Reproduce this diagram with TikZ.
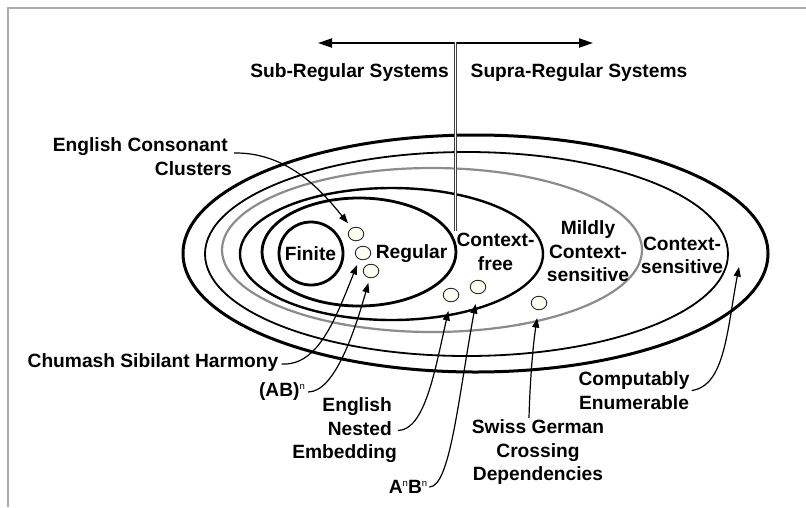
\documentclass[tikz,border=0pt]{standalone}
\usepackage{fontspec}
\setmainfont{Liberation Sans}
\usetikzlibrary{arrows.meta,shapes.geometric,calc}
\newcommand{\supn}{\raisebox{7.5pt}{\fontsize{9.5}{9.5}\selectfont\mdseries n}}
\begin{document}
\begin{tikzpicture}[x=1pt,y=-1pt,
  lbl/.style={font=\fontsize{19.2}{23.5}\selectfont\bfseries, inner sep=0pt, align=center},
  dot/.style={ellipse, draw=black!85, line width=0.9pt, fill=yellow!4, minimum width=15.5pt, minimum height=13.5pt, inner sep=0pt},
  lead/.style={line width=1.2pt, -{Triangle[length=9.5pt,width=7pt]}},
  topar/.style={line width=2pt, -{Triangle[length=14pt,width=9pt]}},
  ring/.style={draw=black}]
\useasboundingbox (0,0) rectangle (806,507);
\fill[white] (0,0) rectangle (806,507);
% frame
\draw[gray!65, line width=1.6pt] (806,8) -- (8,8) -- (8,507);

% nested language classes
\draw[ring, line width=3pt] (475.5,253.5) ellipse [x radius=292.5pt, y radius=118.5pt];
\draw[ring, line width=1.8pt] (466.5,254) ellipse [x radius=261.5pt, y radius=102pt];
\draw[draw=black!45, line width=2.2pt] (432,250) ellipse [x radius=210pt, y radius=82pt];
\draw[ring, line width=2.4pt] (391.5,254) ellipse [x radius=151.5pt, y radius=66pt];
\draw[ring, line width=2.8pt] (359,252) ellipse [x radius=97pt, y radius=54pt];
\draw[ring, line width=2.8pt] (311,253.5) ellipse [x radius=32pt, y radius=31.5pt];

% top arrows
\coordinate (j) at (455.5,43);
\coordinate (jl) at (454,43);
\coordinate (jr) at (457,43);
\coordinate (jb) at (455.5,231);
\coordinate (lt) at (318,43);
\coordinate (rt) at (593,43);
\draw[topar] (jl) -- (lt);
\draw[topar] (jr) -- (rt);
\draw[line width=0.8pt, draw=black!75, double=white, double distance=1.6pt] ($(j)+(0,-0.8)$) -- (jb);
\node[lbl] (sub) at (349.5,73) {Sub-Regular Systems};
\node[lbl] (supra) at (579,73) {Supra-Regular Systems};

% class labels
\node[lbl] (finite) at (310.5,254) {Finite};
\node[lbl] (regular) at (411.5,254) {Regular};
\node[lbl] (cf) at (495.5,252) {Context-\\free};
\node[lbl] (mcs) at (588,251.5) {Mildly\\Context-\\sensitive};
\node[lbl] (cs) at (682,255.5) {Context-\\sensitive};

% example dots
\node[dot] (c1) at (356,234) {};
\node[dot] (c2) at (363,253) {};
\node[dot] (c3) at (371,271) {};
\node[dot] (c4) at (451,295) {};
\node[dot] (c5) at (478,287) {};
\node[dot] (c6) at (539,303) {};
\coordinate (cetip) at (739,267);

% example labels
\node[lbl, align=right, anchor=east] (ecc) at (232,156.5) {English Consonant\kern4pt\\Clusters};
\node[lbl] (chu) at (153,363) {Chumash Sibilant Harmony};
\node[lbl] (ab) at (282,392) {(AB)\supn};
\node[lbl, align=right, anchor=east] (ene) at (397,430.5) {English\kern5pt\\Nested\kern5pt\\Embedding};
\node[lbl] (anbn) at (408,487) {A\supn B\supn};
\node[lbl] (swiss) at (538,452.5) {Swiss German\\Crossing\\Dependencies};
\node[lbl] (ce) at (634,390.5) {Computably\\Enumerable};

% leaders
\draw[lead, shorten >=6pt] ($(ecc.east)+(2,-3.5)$) .. controls (290,152) and (325,195) .. (c1.125);
\draw[lead, shorten >=6pt] ($(chu.east)+(3,1)$) .. controls (318,366) and (335,320) .. (c2.240);
\draw[lead, shorten >=5pt] ($(ab.east)+(3,0)$) .. controls (335,392) and (355,330) .. (c3.260);
\draw[lead, shorten >=9pt] ($(ene.east)+(1,0)$) .. controls (425,430) and (435,370) .. (c4.265);
\draw[lead, shorten >=10pt] ($(anbn.east)+(2,0)$) .. controls (450,487) and (458,400) .. (c5.265);
\draw[lead, shorten >=8pt] ($(swiss.north)+(-9,-2)$) .. controls (530,380) and (533,345) .. (c6.265);
\draw[lead] ($(ce.east)+(2,0)$) .. controls (725,386) and (727,330) .. (cetip);
\end{tikzpicture}
\end{document}
